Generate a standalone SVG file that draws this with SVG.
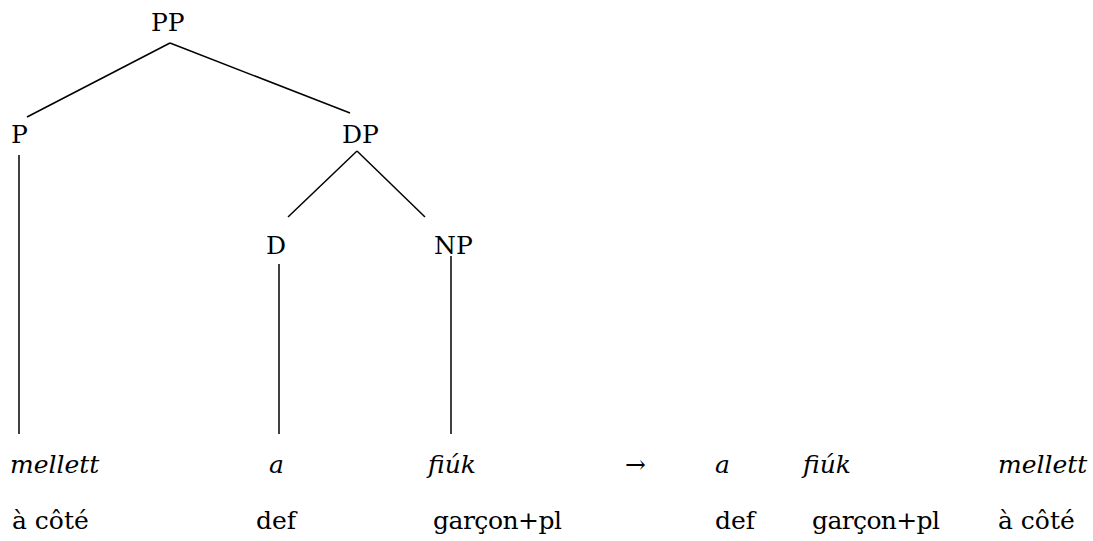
<svg xmlns="http://www.w3.org/2000/svg" width="1093" height="541" viewBox="0 0 1093 541">
<style>
text{font-family:"DejaVu Serif",serif;font-size:25px;fill:#000}
.it{font-style:italic}
.edge{stroke:#000;stroke-width:1.5;fill:none}
</style>
<rect width="1093" height="541" fill="#fff"/>
<g id="connectors">
<line class="edge" x1="170" y1="43" x2="27" y2="117"/>
<line class="edge" x1="170" y1="43" x2="350" y2="113"/>
<line class="edge" x1="19" y1="155" x2="19" y2="434"/>
<line class="edge" x1="357" y1="151" x2="288" y2="217"/>
<line class="edge" x1="357" y1="151" x2="425" y2="217"/>
<line class="edge" x1="279" y1="264" x2="279" y2="434"/>
<line class="edge" x1="451" y1="256" x2="451" y2="434"/>
</g>
<g id="node-PP"><text x="151" y="31">PP</text></g>
<g id="node-P"><text x="11" y="143">P</text></g>
<g id="node-DP"><text x="342" y="143">DP</text></g>
<g id="node-D"><text x="266" y="254">D</text></g>
<g id="node-NP"><text x="434" y="254">NP</text></g>
<g id="leaf-mellett"><text class="it" x="10" y="473">mellett</text><text x="12" y="529">à côté</text></g>
<g id="leaf-a"><text class="it" x="269" y="473">a</text><text x="256" y="529">def</text></g>
<g id="leaf-fiuk"><text class="it" x="428" y="473">fiúk</text><text x="433" y="529" textLength="129">garçon+pl</text></g>
<g id="arrow"><text x="625" y="473">→</text></g>
<g id="result">
<text class="it" x="715" y="473">a</text><text x="715" y="529">def</text>
<text class="it" x="803" y="473">fiúk</text><text x="812" y="529" textLength="128">garçon+pl</text>
<text class="it" x="998" y="473">mellett</text><text x="998" y="529">à côté</text>
</g>
</svg>
